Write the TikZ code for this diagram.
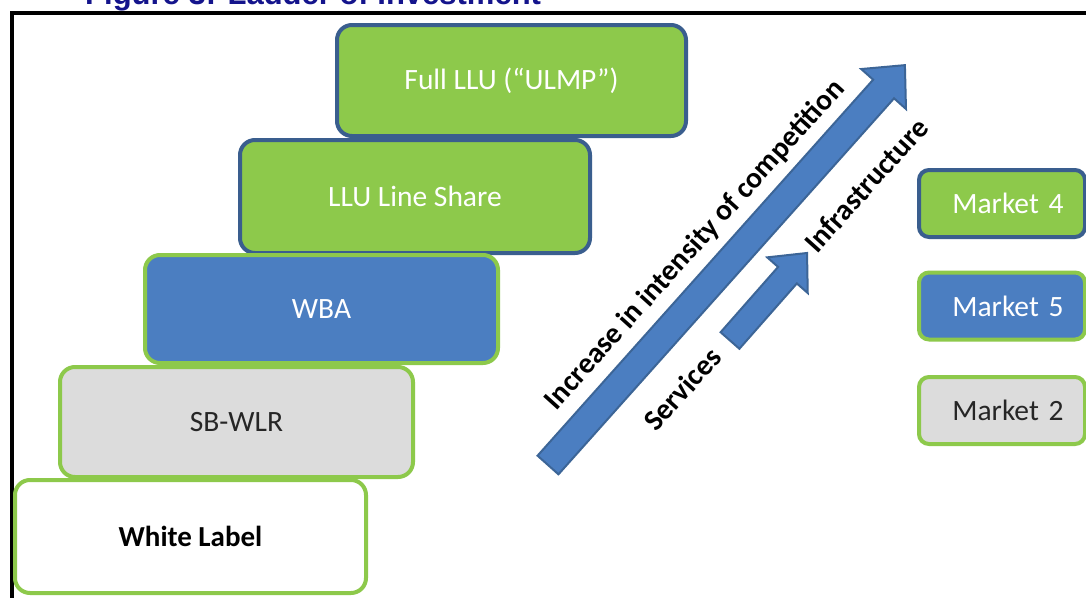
\documentclass[tikz,border=0pt]{standalone}
\usepackage{fontspec}
\setmainfont{Carlito}
\newfontfamily\titlefont{Liberation Sans}
\usetikzlibrary{calc}

\definecolor{ladgreen}{HTML}{8DC94B}
\definecolor{ladblue}{HTML}{4B7EC1}
\definecolor{ladnavy}{HTML}{3A5E8E}
\definecolor{ladgrey}{HTML}{DCDCDC}
\definecolor{titleblue}{HTML}{14148C}
\definecolor{arrowedge}{HTML}{3C6597}

\begin{document}
\begin{tikzpicture}[x=1pt,y=-1pt,
  rung/.style={rectangle, rounded corners=15pt, line width=4pt, inner sep=0pt,
    font=\fontsize{29.5}{33}\selectfont},
  greenrung/.style={rung, fill=ladgreen, draw=ladnavy, text=white},
  bluerung/.style={rung, fill=ladblue, draw=ladgreen, text=white},
  greyrung/.style={rung, fill=ladgrey, draw=ladgreen, text=black!85},
  whiterung/.style={rung, fill=white, draw=ladgreen, text=black,
    font=\fontsize{29}{33}\selectfont\bfseries},
  market/.style={rounded corners=10pt, minimum width=166pt, minimum height=67pt},
  slanted/.style={font=\fontsize{29.5}{33}\selectfont\bfseries, rotate=48, inner sep=0pt},
  bigarrow/.style={fill=ladblue, draw=arrowedge, line width=2pt, line join=miter}
]
\useasboundingbox (0,0) rectangle (1086,597);
\clip (0,0) rectangle (1086,597);
\fill[white] (0,0) rectangle (1086,597);

% heading and frame
\node[anchor=base west, inner sep=0pt, text=titleblue,
      font=\titlefont\fontsize{31}{34}\selectfont\bfseries] (title) at (85,5)
      {Figure 3: Ladder of Investment};
\draw[line width=4pt, line join=miter] (1090,13) -| (12,600);

% the ladder
\node[greenrung, minimum width=349pt, minimum height=111pt] (full)  at (511.5,80.5) {Full LLU (“ULMP”)};
\node[greenrung, minimum width=350pt, minimum height=113pt] (share) at (415,196.5) {LLU Line Share};
\node[bluerung,  minimum width=353pt, minimum height=108pt] (wba)   at (321.5,309) {WBA};
\node[greyrung,  minimum width=353pt, minimum height=110pt] (sbwlr) at (236.5,422) {SB-WLR};
\node[whiterung, minimum width=351pt, minimum height=113pt] (white) at (190.5,536.5) {White Label};

% markets
\node[greenrung, market, text width=166pt, align=center] (m4) at (1002,203.5) {\hspace*{12pt}Market 4};
\node[bluerung,  market, text width=166pt, align=center] (m5) at (1002,306)   {\hspace*{12pt}Market 5};
\node[greyrung,  market, text width=166pt, align=center] (m2) at (1002,410.5) {\hspace*{12pt}Market 2};

% big arrow
\coordinate (bigtail) at (548,465);
\begin{scope}[shift={(bigtail)}, rotate=48.25]
  \draw[bigarrow] (0,-14) -- (504,-14) -- (504,-30) -- (536,0)
                  -- (504,30) -- (504,14) -- (0,14) -- cycle;
\end{scope}

% small arrow
\coordinate (smalltail) at (730,340.5);
\begin{scope}[shift={(smalltail)}, rotate=48.65]
  \draw[bigarrow] (0,-12.5) -- (87,-12.5) -- (87,-27) -- (116.6,0)
                  -- (87,27) -- (87,12.5) -- (0,12.5) -- cycle;
\end{scope}

% slanted labels
\node[slanted] (incr)  at (695,245) {Increase in intensity of competition};
\node[slanted] (serv)  at (682,389) {Services};
\node[slanted] (infra) at (866,185) {Infrastructure};
\end{tikzpicture}
\end{document}
